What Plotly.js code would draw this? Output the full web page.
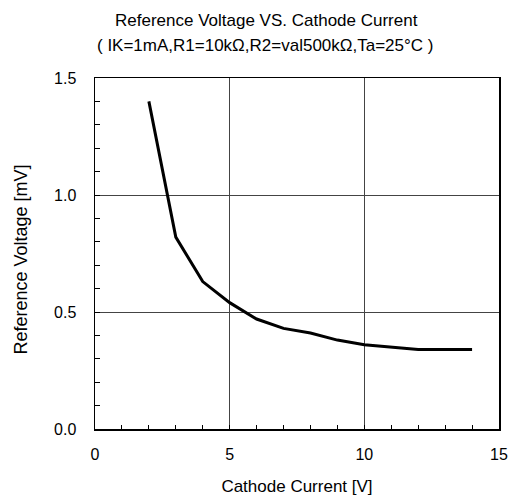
<!DOCTYPE html>
<html>
<head>
<meta charset="utf-8">
<script src="https://cdn.plot.ly/plotly-3.0.1.min.js"></script>
<style>html,body{margin:0;padding:0;background:#fff;}</style>
</head>
<body>
<div id="chart" style="width:512px;height:503px;"></div>
<script>
const titleLine1 = "Reference Voltage VS. Cathode Current";
const titleLine2 = "( IK=1mA,R1=10kΩ,R2=val500kΩ,Ta=25°C )";
const xTitle = "Cathode Current [V]";
const yTitle = "Reference Voltage [mV]";
const cathodeCurrent = [2, 3, 4, 5, 6, 7, 8, 9, 10, 11, 12, 13, 14];
const referenceVoltage = [1.40, 0.82, 0.63, 0.54, 0.47, 0.43, 0.41, 0.38, 0.36, 0.35, 0.34, 0.34, 0.34];

const font = "Liberation Sans, Arial, sans-serif";

const trace = {
  x: cathodeCurrent,
  y: referenceVoltage,
  mode: "lines",
  line: {color: "#000", width: 3},
  hoverinfo: "skip"
};

const layout = {
  width: 512, height: 503,
  margin: {l: 94.5, r: 12.5, t: 78, b: 74},
  paper_bgcolor: "#fff", plot_bgcolor: "#fff",
  showlegend: false,
  font: {family: font, color: "#000"},
  xaxis: {
    range: [0, 15], dtick: 5, tick0: 0,
    showline: true, linecolor: "#000", linewidth: 1.5, mirror: true,
    showgrid: true, gridcolor: "#444", gridwidth: 1,
    zeroline: false,
    ticks: "inside", ticklen: 4, tickcolor: "#000",
    minor: {dtick: 1, ticks: "inside", ticklen: 4, tickcolor: "#000", showgrid: false},
    tickfont: {size: 16, family: font, color: "#000"},
    ticklabelstandoff: 10,
    title: {text: xTitle, font: {size: 17, family: font, color: "#000"}, standoff: 18}
  },
  yaxis: {
    range: [0, 1.5], dtick: 0.5, tick0: 0, tickformat: ".1f",
    showline: true, linecolor: "#000", linewidth: 1.5, mirror: true,
    showgrid: true, gridcolor: "#444", gridwidth: 1,
    zeroline: false,
    ticks: "inside", ticklen: 5, tickcolor: "#000",
    minor: {dtick: 0.1, ticks: "inside", ticklen: 5, tickcolor: "#000", showgrid: false},
    tickfont: {size: 16, family: font, color: "#000"},
    ticklabelstandoff: 14
  },
  annotations: [
    {text: titleLine1, xref: "paper", yref: "paper", x: (266 - 94.5) / 405, y: 1, xanchor: "center", yanchor: "middle",
     yshift: 78 - 20, showarrow: false, font: {size: 17, family: font, color: "#000"}},
    {text: titleLine2, xref: "paper", yref: "paper", x: (265 - 94.5) / 405, y: 1, xanchor: "center", yanchor: "middle",
     yshift: 78 - 45, showarrow: false, font: {size: 17, family: font, color: "#000"}},
    {text: yTitle, xref: "paper", yref: "paper", x: 0, y: 0.5, xanchor: "center", yanchor: "middle",
     xshift: 20 - 94.5, yshift: -(260 - 253.5), textangle: -90, showarrow: false,
     font: {size: 18, family: font, color: "#000"}}
  ]
};

Plotly.newPlot("chart", [trace], layout, {displayModeBar: false, staticPlot: true});
</script>
</body>
</html>
